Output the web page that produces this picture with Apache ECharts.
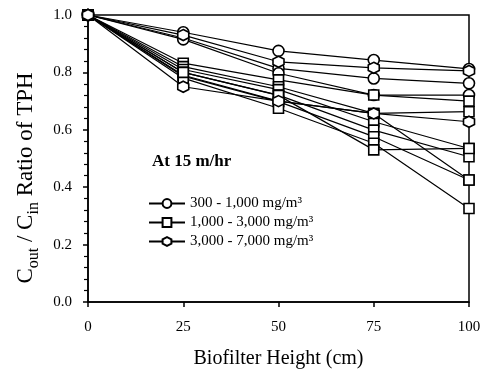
<!DOCTYPE html>
<html>
<head>
<meta charset="utf-8">
<script src="https://cdn.jsdelivr.net/npm/echarts@6/dist/echarts.min.js"></script>
<style>
  html, body { margin: 0; padding: 0; background: #fff; }
  #chart { width: 489px; height: 376px; }
</style>
</head>
<body>
<div id="chart"></div>
<script>
// 生物滤池高度 (cm)
var heights = [0, 25, 50, 75, 100];
var yTicks = [0, 0.2, 0.4, 0.6, 0.8, 1.0];

// 300 - 1,000 mg/m3
var low1 = [1.0, 0.94, 0.875, 0.843, 0.812];
var low2 = [1.0, 0.92, 0.814, 0.779, 0.762];
var low3 = [1.0, 0.915, 0.797, 0.721, 0.721];

// 1,000 - 3,000 mg/m3
var mid1 = [1.0, 0.832, 0.774, 0.721, 0.70];
var mid2 = [1.0, 0.82, 0.75, 0.657, 0.663];
var mid3 = [1.0, 0.81, 0.74, 0.628, 0.535];
var mid4 = [1.0, 0.80, 0.721, 0.599, 0.506];
var mid5 = [1.0, 0.79, 0.70, 0.657, 0.425];
var mid6 = [1.0, 0.787, 0.698, 0.576, 0.425];
var mid7 = [1.0, 0.78, 0.675, 0.553, 0.326];
var mid8 = [1.0, 0.80, 0.72, 0.530, 0.535];

// 3,000 - 7,000 mg/m3
var high1 = [1.0, 0.93, 0.837, 0.816, 0.805];
var high2 = [1.0, 0.75, 0.70, 0.657, 0.628];

var names = ['300 - 1,000 mg/m³', '1,000 - 3,000 mg/m³', '3,000 - 7,000 mg/m³'];
var hexagon = 'path://M5,0 L9.33,2.5 L9.33,7.5 L5,10 L0.67,7.5 L0.67,2.5 Z';

var font = 'Liberation Serif';

function mkSeries(name, symbol, size, vals) {
    return {
        name: name,
        type: 'line',
        symbol: symbol,
        symbolSize: size,
        showAllSymbol: true,
        data: heights.map(function (h, i) { return [h, vals[i]]; }),
        lineStyle: { color: '#000', width: 1.2 },
        itemStyle: { color: '#fff', borderColor: '#000', borderWidth: 1.6 },
        emphasis: { disabled: true },
        z: 3
    };
}

var series = [];
[low1, low2, low3].forEach(function (v) { series.push(mkSeries(names[0], 'circle', 11, v)); });
[mid1, mid2, mid3, mid4, mid5, mid6, mid7, mid8].forEach(function (v) { series.push(mkSeries(names[1], 'rect', 10, v)); });
[high1, high2].forEach(function (v) { series.push(mkSeries(names[2], hexagon, 11, v)); });

var myChart = echarts.init(document.getElementById('chart'));
var option = {
    animation: false,
    backgroundColor: '#fff',
    textStyle: { fontFamily: font, color: '#000' },
    grid: {
        left: 88, right: 20, top: 15, bottom: 74,
        show: true, borderColor: '#000', borderWidth: 1.5
    },
    graphic: [{
        type: 'text', left: 152, top: 153,
        style: { text: 'At 15 m/hr', font: 'bold 17px "Liberation Serif"', fill: '#000' }
    }, {
        // y 轴标题（带下标）
        type: 'text', x: 24, y: 178, rotation: Math.PI / 2,
        style: {
            text: '{a|C}{s|out}{a| / C}{s|in}{a| Ratio of TPH}',
            align: 'center', verticalAlign: 'middle',
            rich: {
                a: { fontFamily: font, fontSize: 23, fill: '#000', verticalAlign: 'bottom', lineHeight: 27 },
                s: { fontFamily: font, fontSize: 16, fill: '#000', verticalAlign: 'bottom', lineHeight: 19, padding: [0, 0, -4, 0] }
            }
        }
    }],
    legend: {
        data: names,
        orient: 'vertical',
        left: 143, top: 191,
        itemWidth: 36, itemHeight: 11, itemGap: 4,
        textStyle: { fontFamily: font, fontSize: 15, color: '#000' }
    },
    xAxis: {
        type: 'value',
        min: 0, max: 100, interval: 25,
        name: 'Biofilter Height (cm)',
        nameLocation: 'middle', nameGap: 47,
        nameTextStyle: { fontFamily: font, fontSize: 20, color: '#000' },
        axisLine: { lineStyle: { color: '#000', width: 1.5 } },
        axisTick: { lineStyle: { color: '#000', width: 1.5 }, length: 5 },
        axisLabel: { fontFamily: font, fontSize: 15, color: '#000', margin: 18 },
        splitLine: { show: false }
    },
    yAxis: {
        type: 'value',
        min: yTicks[0], max: yTicks[yTicks.length - 1], interval: 0.2,
        axisLine: { lineStyle: { color: '#000', width: 1.5 } },
        axisTick: { lineStyle: { color: '#000', width: 1.5 }, length: 5 },
        minorTick: { show: true, splitNumber: 5, length: 4, lineStyle: { color: '#000', width: 1.2 } },
        axisLabel: {
            fontFamily: font, fontSize: 15, color: '#000', margin: 16,
            formatter: function (v) { return v.toFixed(1); }
        },
        splitLine: { show: false }
    },
    series: series
};
myChart.setOption(option);
</script>
</body>
</html>
